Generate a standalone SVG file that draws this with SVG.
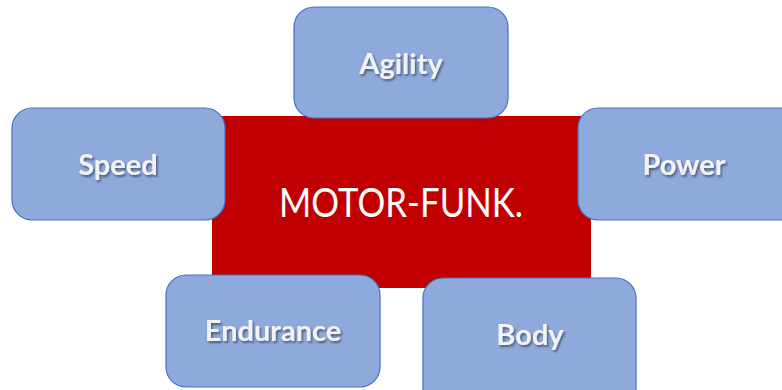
<svg xmlns="http://www.w3.org/2000/svg" width="782" height="390" viewBox="0 0 782 390">
  <defs>
    <filter id="shadow" x="-20%" y="-20%" width="140%" height="160%">
      <feDropShadow dx="1.5" dy="2" stdDeviation="1.2" flood-color="#000000" flood-opacity="0.45"/>
    </filter>
  </defs>
  <style>
    .box { fill: #8EA9DB; stroke: #4472C4; stroke-width: 1.2; }
    .lbl { font-family: Lato, "Open Sans", sans-serif; font-weight: bold; font-size: 29px; fill: #F2F2F2; text-anchor: middle; filter: url(#shadow); }
    .main { font-family: Lato, "Open Sans", sans-serif; font-size: 41px; fill: #FFFFFF; text-anchor: middle; }
  </style>
  <rect width="782" height="390" fill="#FFFFFF"/>
  <g id="connectors"></g>
  <g id="motor-funk">
    <rect x="212" y="116" width="379" height="172" rx="4" fill="#C00000"/>
    <text class="main" x="401" y="217" textLength="244" lengthAdjust="spacingAndGlyphs">MOTOR-FUNK.</text>
  </g>
  <g id="agility">
    <rect class="box" x="294" y="7" width="214" height="111" rx="20"/>
    <text class="lbl" x="401" y="74">Agility</text>
  </g>
  <g id="speed">
    <rect class="box" x="12" y="108" width="213" height="112" rx="20"/>
    <text class="lbl" x="118" y="175">Speed</text>
  </g>
  <g id="power">
    <rect class="box" x="578" y="108" width="230" height="112" rx="20"/>
    <text class="lbl" x="684" y="175">Power</text>
  </g>
  <g id="endurance">
    <rect class="box" x="166" y="275" width="214" height="112" rx="20"/>
    <text class="lbl" x="273" y="341">Endurance</text>
  </g>
  <g id="body">
    <rect class="box" x="423" y="278" width="213" height="130" rx="20"/>
    <text class="lbl" x="530" y="345">Body</text>
  </g>
</svg>
